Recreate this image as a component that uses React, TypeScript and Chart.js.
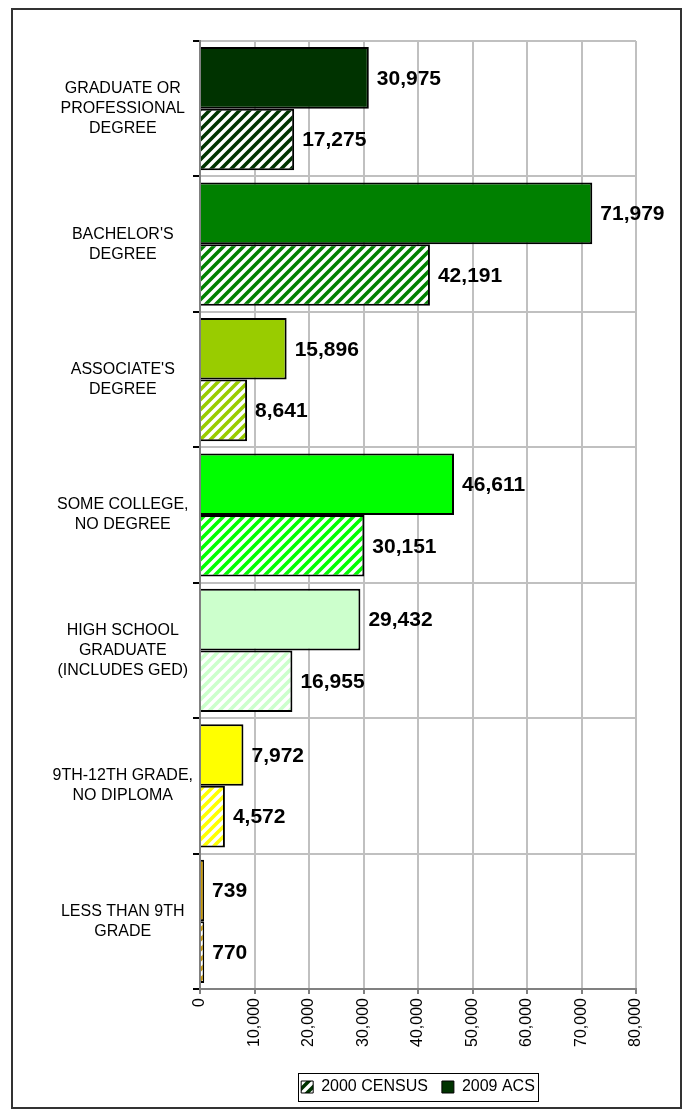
import React, { useEffect, useRef } from "react";
import { Chart, registerables } from "chart.js";

Chart.register(...registerables);

const categories: string[][] = [
  ["GRADUATE OR", "PROFESSIONAL", "DEGREE"],
  ["BACHELOR'S", "DEGREE"],
  ["ASSOCIATE'S", "DEGREE"],
  ["SOME COLLEGE,", "NO DEGREE"],
  ["HIGH SCHOOL", "GRADUATE", "(INCLUDES GED)"],
  ["9TH-12TH GRADE,", "NO DIPLOMA"],
  ["LESS THAN 9TH", "GRADE"],
];

const acs2009: number[] = [30975, 71979, 15896, 46611, 29432, 7972, 739];
const census2000: number[] = [17275, 42191, 8641, 30151, 16955, 4572, 770];

const categoryColors: string[] = [
  "#003300",
  "#008000",
  "#99cc00",
  "#00ff00",
  "#ccffcc",
  "#ffff00",
  "#cc9900",
];

const seriesNames: string[] = ["2009 ACS", "2000 CENSUS"];
const xTicks: number[] = [0, 10000, 20000, 30000, 40000, 50000, 60000, 70000, 80000];

const FONT = 'Arial, "Liberation Sans", sans-serif';

function makeHatch(color: string): CanvasPattern | string {
  const s = 10;
  const c = document.createElement("canvas");
  c.width = s;
  c.height = s;
  const g = c.getContext("2d");
  if (!g) return color;
  g.fillStyle = "#ffffff";
  g.fillRect(0, 0, s, s);
  g.strokeStyle = color;
  g.lineWidth = 3.6;
  g.lineCap = "square";
  g.beginPath();
  g.moveTo(0, s);
  g.lineTo(s, 0);
  g.moveTo(-s / 2, s / 2);
  g.lineTo(s / 2, -s / 2);
  g.moveTo(s / 2, s + s / 2);
  g.lineTo(s + s / 2, s / 2);
  g.stroke();
  const p = g.createPattern(c, "repeat");
  return p || color;
}

const valueLabels = {
  id: "valueLabels",
  afterDatasetsDraw(chart: any) {
    const ctx = chart.ctx;
    ctx.save();
    ctx.font = `bold 21px ${FONT}`;
    ctx.fillStyle = "#000";
    ctx.textAlign = "left";
    ctx.textBaseline = "middle";
    chart.data.datasets.forEach((ds: any, i: number) => {
      const meta = chart.getDatasetMeta(i);
      meta.data.forEach((bar: any, j: number) => {
        const v = ds.data[j] as number;
        ctx.fillText(v.toLocaleString("en-US"), bar.x + 8, bar.y + 1);
      });
    });
    ctx.restore();
  },
};

const legendBox = {
  id: "legendBox",
  afterDraw(chart: any) {
    const lg = chart.legend;
    if (!lg || !lg.legendHitBoxes || !lg.legendHitBoxes.length) return;
    let l = Infinity, r = -Infinity, t = Infinity, b = -Infinity;
    lg.legendHitBoxes.forEach((h: any) => {
      l = Math.min(l, h.left);
      r = Math.max(r, h.left + h.width);
      t = Math.min(t, h.top);
      b = Math.max(b, h.top + h.height);
    });
    const ctx = chart.ctx;
    ctx.save();
    ctx.strokeStyle = "#000";
    ctx.lineWidth = 1;
    ctx.strokeRect(Math.round(l - 3) + 0.5, Math.round(t - 6) + 0.5, Math.round(r - l + 6), Math.round(b - t + 12));
    ctx.restore();
  },
};

export default function App() {
  const ref = useRef<HTMLCanvasElement | null>(null);

  useEffect(() => {
    if (!ref.current) return;
    const hatches = categoryColors.map((c) => makeHatch(c));
    const legendHatch = makeHatch("#003300");
    const chart = new Chart(ref.current, {
      type: "bar",
      data: {
        labels: categories,
        datasets: [
          {
            label: seriesNames[0],
            data: acs2009,
            backgroundColor: categoryColors,
            borderColor: "#000",
            borderWidth: 2,
            categoryPercentage: 0.91,
            barPercentage: 1,
          },
          {
            label: seriesNames[1],
            data: census2000,
            backgroundColor: hatches as any,
            borderColor: "#000",
            borderWidth: 2,
            categoryPercentage: 0.91,
            barPercentage: 1,
          },
        ],
      },
      options: {
        indexAxis: "y",
        responsive: false,
        animation: false,
        devicePixelRatio: 1,
        layout: { padding: { left: 40, right: 50, top: 41, bottom: 10 } },
        scales: {
          x: {
            min: 0,
            max: 80000,
            afterBuildTicks: (scale: any) => {
              scale.ticks = xTicks.map((v) => ({ value: v }));
            },
            afterFit: (scale: any) => {
              scale.height = 76;
            },
            grid: {
              color: "#c0c0c0",
              lineWidth: 2,
              tickColor: "#808080",
              tickLength: 5,
            },
            border: { color: "#808080", width: 2 },
            ticks: {
              minRotation: 90,
              maxRotation: 90,
              padding: 4,
              color: "#000",
              font: { family: FONT, size: 16 },
              callback: (v: any) => Number(v).toLocaleString("en-US"),
            },
          },
          y: {
            offset: true,
            afterFit: (scale: any) => {
              scale.width = 160;
            },
            grid: {
              offset: true,
              color: "#c0c0c0",
              lineWidth: 2,
              tickColor: "#000",
              tickLength: 7,
            },
            border: { color: "#808080", width: 2 },
            ticks: {
              crossAlign: "center",
              padding: 0,
              color: "#000",
              font: { family: FONT, size: 16, lineHeight: 1.25 },
            },
          },
        },
        plugins: {
          legend: {
            position: "bottom",
            fullSize: false,
            labels: {
              boxWidth: 12,
              boxHeight: 12,
              padding: 14,
              color: "#000",
              font: { family: FONT, size: 16 },
              generateLabels: () => [
                {
                  text: seriesNames[1],
                  fillStyle: legendHatch as any,
                  strokeStyle: "#000",
                  lineWidth: 1,
                  datasetIndex: 1,
                  hidden: false,
                },
                {
                  text: seriesNames[0],
                  fillStyle: "#003300",
                  strokeStyle: "#000",
                  lineWidth: 1,
                  datasetIndex: 0,
                  hidden: false,
                },
              ],
            },
          },
          tooltip: { enabled: false },
        },
      },
      plugins: [valueLabels, legendBox],
    });
    return () => chart.destroy();
  }, []);

  return (
    <div style={{ position: "absolute", left: 0, top: 0, width: 686, height: 1115, background: "#fff" }}>
      <canvas ref={ref} width={686} height={1115} style={{ display: "block", width: 686, height: 1115 }} />
      <div
        style={{
          position: "absolute",
          left: 11,
          top: 8,
          width: 671,
          height: 1101,
          boxSizing: "border-box",
          border: "2px solid #333",
          pointerEvents: "none",
        }}
      />
    </div>
  );
}
